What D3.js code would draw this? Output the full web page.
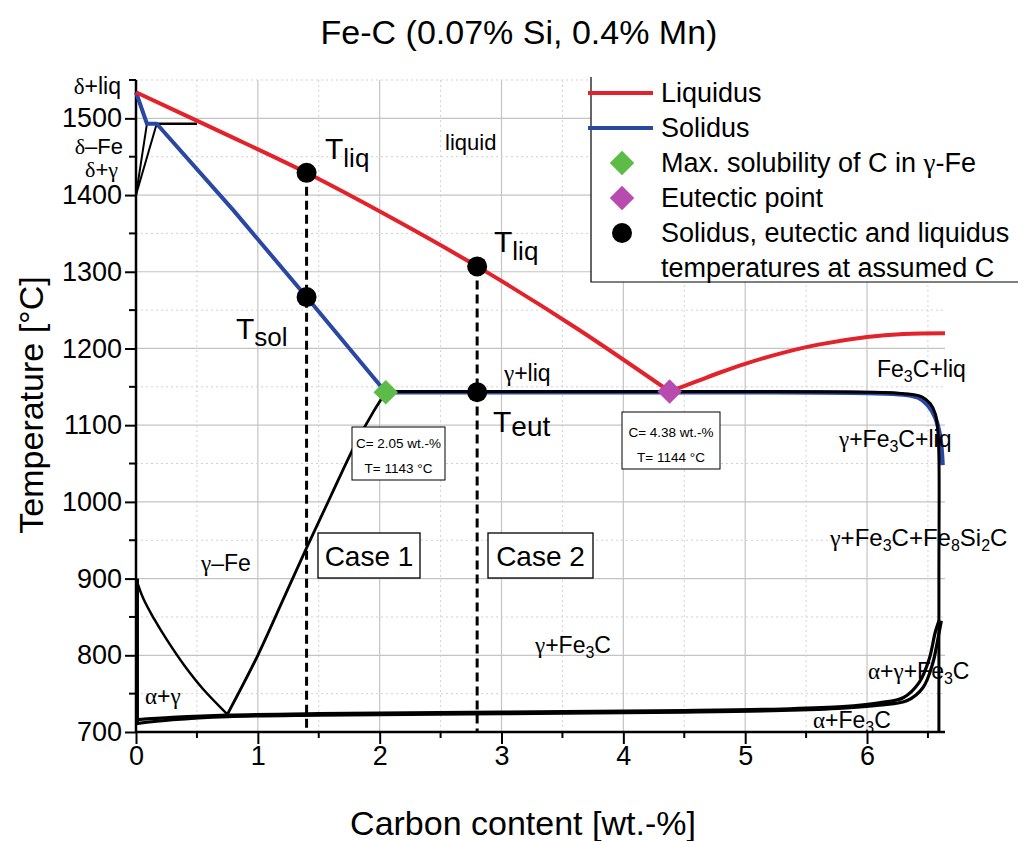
<!DOCTYPE html>
<html><head><meta charset="utf-8">
<script src="https://cdn.jsdelivr.net/npm/d3@7"></script>
<style>body{margin:0;background:#fff}svg{display:block}text{font-family:"Liberation Sans",Arial,sans-serif;fill:#000}</style>
</head><body><svg id="c" width="1018" height="841"></svg>
<script>
// ---------- data ----------
const title = "Fe-C (0.07% Si, 0.4% Mn)";
const xTicks = [0,1,2,3,4,5,6];
const yTicks = [700,800,900,1000,1100,1200,1300,1400,1500];
const liquidusHypo = [[0,1534],[0.7,1482],[1.4,1429],[2.1,1370],[2.8,1307],[3.6,1228],[4.38,1144]];
const liquidusHyper = [[4.38,1144],[4.6,1157],[4.8,1169],[5.0,1180],[5.3,1194],[5.6,1205],[6.0,1215],[6.3,1219],[6.64,1220]];
const solidus = [[0,1534],[0.09,1493],[0.17,1493],[0.8,1380],[1.4,1267],[2.05,1143],[3,1143],[4,1143],[5,1143],[6,1142],[6.3,1140],[6.42,1136],[6.5,1126],[6.56,1110],[6.6,1085],[6.62,1048]];
const eutecticLine = [[2.05,1144],[3,1144],[4,1144],[5,1144],[6,1143],[6.3,1141],[6.45,1137],[6.52,1128],[6.56,1115],[6.58,1095],[6.59,1060],[6.59,900],[6.59,700]];
const deltaLine1 = [[0,1400],[0.09,1493]];
const deltaLine2 = [[0,1400],[0.17,1493]];
const peritectic = [[0.09,1493],[0.5,1493]];
const acmLine = [[0.75,723],[1.0,800],[1.2,870],[1.4,940],[1.6,1008],[1.8,1075],[1.95,1118],[2.05,1143]];
const a3Line = [[0,900],[0.06,874],[0.15,847],[0.25,821],[0.4,786],[0.55,756],[0.75,723]];
const alphaLine = [[0.01,900],[0.01,711]];
const eutectoidLow = [[0,711],[0.3,716],[0.75,720],[1.5,722],[3,724],[4.5,726],[5.3,728],[5.8,731],[6.1,735],[6.33,741],[6.46,758],[6.54,790],[6.58,820],[6.61,845]];
const eutectoidUp = [[0,716],[0.3,719],[0.75,722],[1.5,724],[3,726],[4.5,728],[5.3,730],[5.8,733],[6.1,738],[6.3,745],[6.43,765],[6.51,795],[6.56,830],[6.59,845]];
const caseC = [1.4, 2.8];
const caseTop = [1429, 1307];
const tempDots = [[1.4,1429],[1.4,1267],[2.8,1307],[2.8,1143]];
const maxSol = [2.05,1143];
const eutPoint = [4.38,1144];
const legendLabels = ["Liquidus","Solidus","Max. solubility of C in γ-Fe","Eutectic point","Solidus, eutectic and liquidus","temperatures at assumed C"];

// ---------- layout ----------
const svg = d3.select("#c");
const x = d3.scaleLinear().domain([0,6.64]).range([136,945]);
const y = d3.scaleLinear().domain([700,1550]).range([732,80]);
const RED="#e3232b", BLUE="#2a47a3", GREEN="#5dbb47", MAG="#b84cae";

// grid
const g = svg.append("g");
d3.range(0.5,6.51,0.5).forEach(v=>{
  const major = Math.abs(v-Math.round(v))<1e-6;
  g.append("line").attr("x1",x(v)).attr("x2",x(v)).attr("y1",y(700)).attr("y2",y(1550))
   .attr("stroke",major?"#c4c4c4":"#d2d2d2").attr("stroke-width",major?1.2:1).attr("stroke-dasharray",major?null:"2,3");
});
d3.range(750,1551,50).forEach(v=>{
  const major = v%100===0;
  g.append("line").attr("x1",x(0)).attr("x2",x(6.64)).attr("y1",y(v)).attr("y2",y(v))
   .attr("stroke",major?"#c4c4c4":"#d2d2d2").attr("stroke-width",major?1.2:1).attr("stroke-dasharray",major?null:"2,3");
});

// axes
const xAxis = d3.axisBottom(x).tickValues(xTicks).tickSize(12).tickPadding(2).tickFormat(d3.format("d"));
const yAxis = d3.axisLeft(y).tickValues(yTicks).tickSize(11).tickPadding(3).tickFormat(d3.format("d"));
const gx = svg.append("g").attr("transform",`translate(0,${y(700)})`).call(xAxis);
const gy = svg.append("g").attr("transform",`translate(${x(0)},0)`).call(yAxis);
[gx,gy].forEach(a=>{
  a.select(".domain").attr("stroke","#000").attr("stroke-width",2.5);
  a.selectAll(".tick line").attr("stroke","#000").attr("stroke-width",2);
  a.selectAll(".tick text").style("font-family","Liberation Sans, Arial, sans-serif").style("font-size","27px").attr("fill","#000");
});
gx.select(".domain").attr("d",`M${x(0)},0H${x(6.64)}`);
gy.select(".domain").attr("d",`M0,${y(700)}V${y(1550)}`);
// minor ticks
d3.range(0.5,6.6,1).forEach(v=>svg.append("line").attr("x1",x(v)).attr("x2",x(v)).attr("y1",y(700)).attr("y2",y(700)+6).attr("stroke","#000").attr("stroke-width",2));
d3.range(750,1551,100).forEach(v=>svg.append("line").attr("x1",x(0)).attr("x2",x(0)-7).attr("y1",y(v)).attr("y2",y(v)).attr("stroke","#000").attr("stroke-width",2));

// lines
const line = d3.line().x(d=>x(d[0])).y(d=>y(d[1]));
const cr = d3.line().x(d=>x(d[0])).y(d=>y(d[1])).curve(d3.curveCatmullRom);
function path(data, gen, color, w, dash){
  return svg.append("path").attr("d",gen(data)).attr("fill","none").attr("stroke",color).attr("stroke-width",w)
    .attr("stroke-linejoin","round").attr("stroke-dasharray",dash||null);
}
// dashed case lines
caseC.forEach((c,i)=>path([[c,caseTop[i]],[c,700]], line, "#000", 3, "9,5"));
path(a3Line, cr, "#000", 2.5);
path(acmLine, cr, "#000", 2.8);
path(alphaLine, line, "#000", 3.5);
path(eutectoidLow, cr, "#000", 3.2);
path(eutectoidUp, cr, "#000", 3.2);
path(deltaLine1, line, "#000", 2);
path(deltaLine2, line, "#000", 2);
path(peritectic, line, "#000", 2.5);
path(solidus.slice(5), cr, BLUE, 4.5);
path(eutecticLine, cr, "#000", 3);
path(solidus.slice(0,6), line, BLUE, 4);
path(liquidusHypo, cr, RED, 4);
path(liquidusHyper, cr, RED, 4);

// markers
const diamond = d3.symbol().type(d3.symbolSquare).size(300);
function dia(cx,cy,color){
  svg.append("path").attr("d",diamond()).attr("fill",color)
   .attr("transform",`translate(${cx},${cy}) rotate(45)`);
}
tempDots.forEach(d=>svg.append("circle").attr("cx",x(d[0])).attr("cy",y(d[1])).attr("r",10).attr("fill","#000"));
dia(x(maxSol[0]),y(maxSol[1]),GREEN);
dia(x(eutPoint[0]),y(eutPoint[1]),MAG);

// text helpers
function txt(xp,yp,parts,size,anchor){
  const t = svg.append("text").attr("x",xp).attr("y",yp).style("font-size",size+"px").attr("text-anchor",anchor||"start");
  parts.forEach(p=>{
    const s = t.append("tspan").text(p.t);
    if(p.sub){ s.style("font-size",(p.size||size*0.7)+"px").attr("dy",p.dy||5); }
    if(p.up){ s.attr("dy",-(p.up)); }
    if(p.greek){ s.style("font-family","Liberation Serif, serif"); }
  });
  return t;
}
const G=s=>({t:s,greek:true});
const P=s=>({t:s});
function fe3c(){return [P("Fe"),{t:"3",sub:true,size:16,dy:5},{t:"C",up:5}];}

// title & axis titles
txt(519,44,[P(title)],34,"middle");
txt(523,835,[P("Carbon content [wt.-%]")],34,"middle");
svg.append("text").attr("transform","translate(43,405) rotate(-90)").attr("text-anchor","middle").style("font-size","34px").text("Temperature [°C]");

// region labels (phase fields)
txt(121,94,[G("δ"),P("+liq")],23,"end");
txt(123,154,[G("δ"),P("–Fe")],22,"end");
txt(118,177,[G("δ"),P("+"),G("γ")],22,"end");
txt(445,150,[P("liquid")],22);
txt(504,381,[G("γ"),P("+liq")],23);
txt(877,377,[...fe3c(),P("+liq")],23);
txt(839,447,[G("γ"),P("+"),...fe3c(),P("+liq")],23);
txt(830,546,[G("γ"),P("+"),...fe3c(),P("+Fe"),{t:"8",sub:true,size:16,dy:5},{t:"Si",up:5},{t:"2",sub:true,size:16,dy:5},{t:"C",up:5}],24);
txt(535,653,[G("γ"),P("+"),...fe3c()],23);
txt(868,679,[G("α"),P("+"),G("γ"),P("+"),...fe3c()],23);
txt(813,728,[G("α"),P("+"),...fe3c()],23);
txt(145,704,[G("α"),P("+"),G("γ")],23);
txt(201,571,[G("γ"),P("–Fe")],23);

// T labels
txt(325,159,[P("T"),{t:"liq",sub:true,size:26,dy:8}],30);
txt(494,252,[P("T"),{t:"liq",sub:true,size:26,dy:8}],30);
txt(236,339,[P("T"),{t:"sol",sub:true,size:26,dy:7}],30);
txt(493,432,[P("T"),{t:"eut",sub:true,size:28,dy:4}],30);

// case boxes
[[318,"Case 1",102],[488,"Case 2",105]].forEach(([bx,lab,w])=>{
  svg.append("rect").attr("x",bx).attr("y",533).attr("width",w).attr("height",45).attr("fill","#fff").attr("stroke","#000").attr("stroke-width",1.3);
  txt(bx+w/2,566,[P(lab)],28,"middle");
});
// annotation boxes
[[352,427,93,53,"C= 2.05 wt.-%","T= 1143 °C",448,473],[622,412,98,57,"C= 4.38 wt.-%","T= 1144 °C",437,462]].forEach(([bx,by,w,h,a,b,y1,y2])=>{
  svg.append("rect").attr("x",bx).attr("y",by).attr("width",w).attr("height",h).attr("fill","#fff").attr("stroke","#000").attr("stroke-width",1);
  txt(bx+w/2,y1,[P(a)],13.5,"middle");
  txt(bx+w/2,y2,[P(b)],13.5,"middle");
});

// legend
const lg = svg.append("g");
lg.append("rect").attr("x",591).attr("y",77).attr("width",440).attr("height",205).attr("fill","#fff");
lg.append("path").attr("d","M591,77V282H1020").attr("fill","none").attr("stroke","#000").attr("stroke-width",1.2);
lg.append("line").attr("x1",588).attr("x2",653).attr("y1",93).attr("y2",93).attr("stroke",RED).attr("stroke-width",4);
lg.append("line").attr("x1",588).attr("x2",653).attr("y1",128).attr("y2",128).attr("stroke",BLUE).attr("stroke-width",4);
dia(622,163,GREEN);
dia(622,198,MAG);
lg.append("circle").attr("cx",622).attr("cy",233).attr("r",10).attr("fill","#000");
const lgY=[102,137,172,207,242,277];
legendLabels.forEach((l,i)=>{
  if(i===2){ txt(661,lgY[i],[P("Max. solubility of C in "),G("γ"),P("-Fe")],27); }
  else txt(661,lgY[i],[P(l)],27);
});
</script></body></html>
